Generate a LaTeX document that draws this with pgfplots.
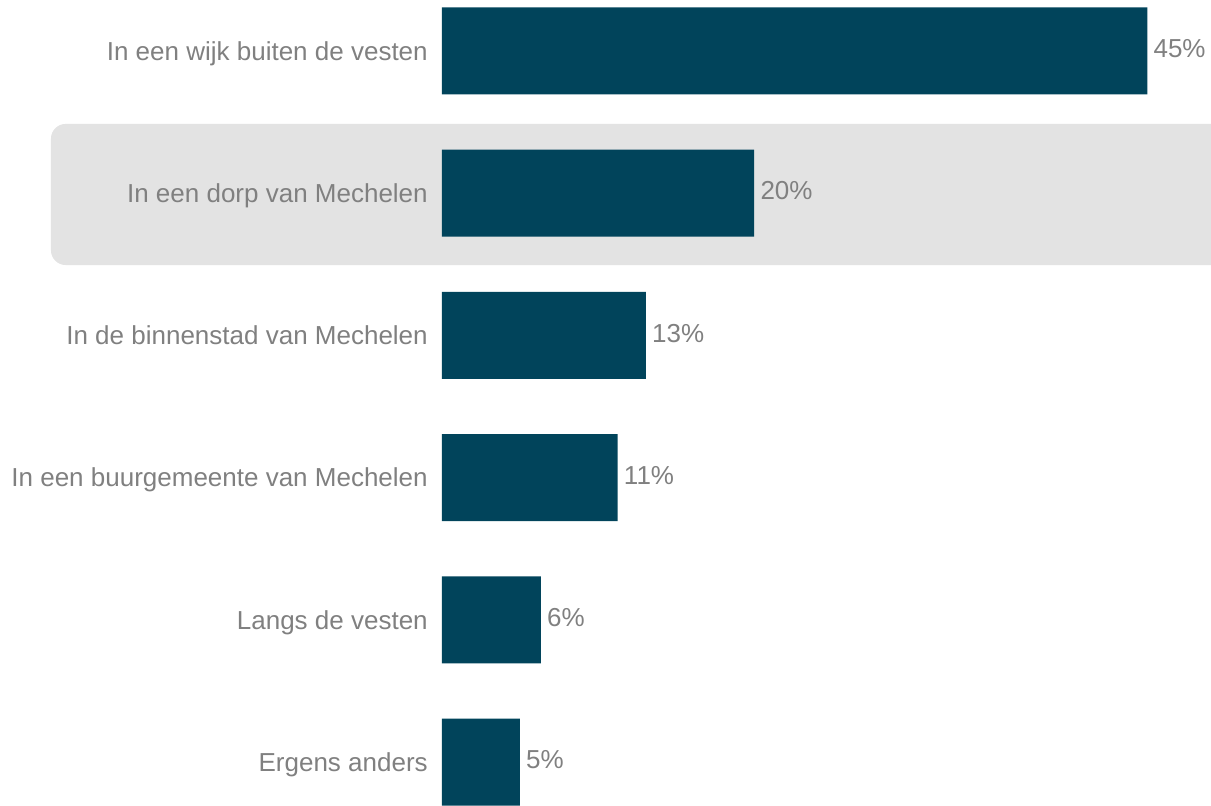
\documentclass[border=0pt]{standalone}
\usepackage{pgfplots}
\pgfplotsset{compat=1.18}
\usepackage{fontspec}
\setmainfont{Liberation Sans}
\definecolor{barcol}{HTML}{01445B}
\definecolor{txtgray}{HTML}{808080}
\definecolor{bggray}{HTML}{E3E3E3}
\pgfplotsset{geom/.style={
  at={(0pt,0pt)}, anchor=south west,
  scale only axis,
  width=576.75pt, height=604.5pt,
  xmin=0, xmax=49.01,
  ymin=-0.3586, ymax=5.309,
  y dir=reverse,
  clip=false}}
\begin{document}
\begin{tikzpicture}
\path[use as bounding box] (-331.5pt,0pt) rectangle (576.75pt,604.5pt);
\begin{axis}[geom, hide axis]
\fill[bggray, rounded corners=11pt] (axis cs:-24.92,0.513) rectangle (axis cs:60,1.505);
\end{axis}
\begin{axis}[
  geom,
  axis line style={draw=none},
  major tick length=0pt,
  xtick=\empty,
  ytick={0,1,2,3,4,5},
  yticklabels={In een wijk buiten de vesten, In een dorp van Mechelen, In de binnenstad van Mechelen, In een buurgemeente van Mechelen, Langs de vesten, Ergens anders},
  yticklabel style={anchor=base east, inner sep=0pt, xshift=-10.5pt, yshift=-7pt, text=txtgray, font=\fontsize{19.5}{23}\selectfont},
  xbar, bar width=65.25pt,
  point meta=x,
  nodes near coords={\pgfmathprintnumber[fixed,precision=0,assume math mode=true]{\pgfplotspointmeta}\%},
  nodes near coords style={anchor=base west, inner sep=0pt, xshift=4.5pt, yshift=-5pt, text=txtgray, font=\fontsize{19.5}{23}\selectfont},
]
\addplot[fill=barcol, draw=none] coordinates {
  (44.95,0) (19.9,1) (13.0,2) (11.2,3) (6.3,4) (4.97,5)
};
\end{axis}
\end{tikzpicture}
\end{document}
